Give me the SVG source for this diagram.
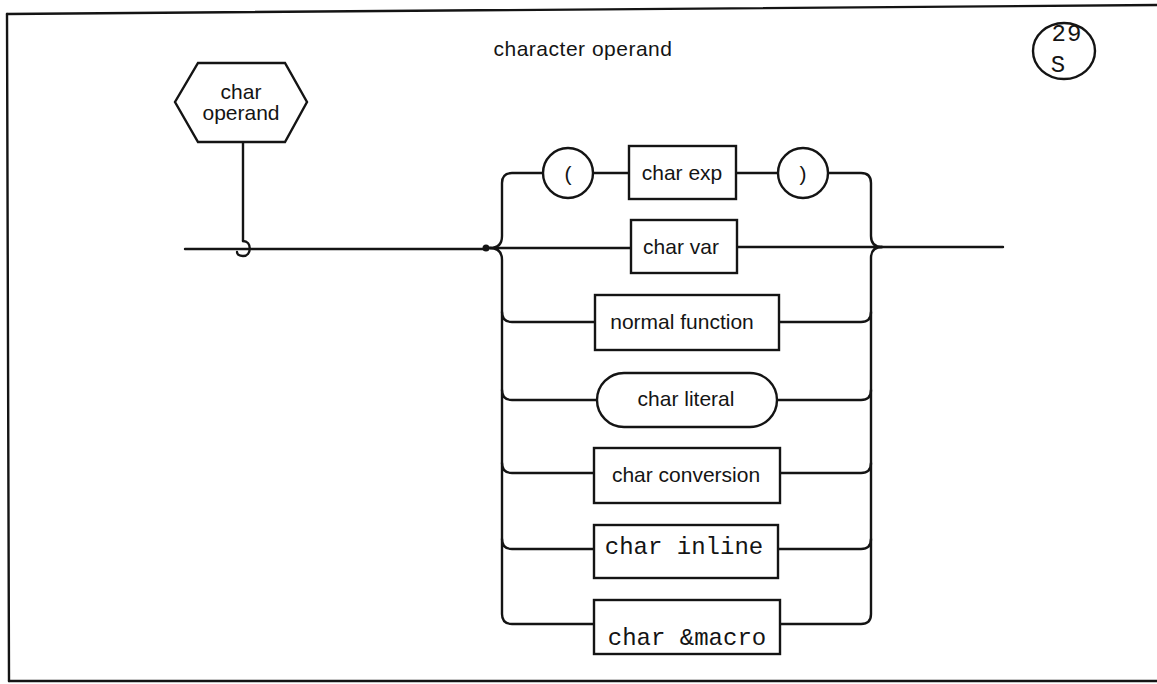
<svg xmlns="http://www.w3.org/2000/svg" width="1157" height="684" viewBox="0 0 1157 684">
  <style>
    .ln { fill: none; stroke: #141414; stroke-width: 2.4; stroke-linecap: round; stroke-linejoin: round; }
    .box { fill: #fff; stroke: #141414; stroke-width: 2.4; }
    .sans { font-family: "Liberation Sans", Arial, sans-serif; font-size: 21px; fill: #141414; text-anchor: middle; }
    .mono { font-family: "Liberation Mono", "Courier New", monospace; font-size: 24px; fill: #141414; text-anchor: middle; }
  </style>
  <rect width="1157" height="684" fill="#fff"/>

  <!-- page frame -->
  <g id="frame">
    <path class="ln" d="M7,14 L1157,5" stroke-width="3"/>
    <path class="ln" d="M7,14 L9,681" stroke-width="3"/>
    <path class="ln" d="M9,681 L1157,681" stroke-width="3"/>
  </g>

  <text class="sans" x="583" y="56" font-size="20" letter-spacing="0.5">character operand</text>

  <!-- page tag -->
  <g id="page-tag">
    <ellipse cx="1064" cy="51" rx="31" ry="28" class="box"/>
    <text class="mono" x="1067" y="41" font-size="28" letter-spacing="1">29</text>
    <text class="mono" x="1058" y="72" font-size="26">S</text>
  </g>

  <!-- connectors -->
  <g id="connectors">
    <!-- stem from definition to main line -->
    <path class="ln" d="M243,142 V241"/>
    <path class="ln" d="M185,249 H486"/>
    <path class="ln" d="M243,241 C252,241 252,256 243,256 C239,256 237,254 237,252"/>
    <circle cx="486" cy="248" r="3.5" fill="#141414"/>
    <!-- left brace -->
    <path class="ln" d="M486,248 H631"/>
    <path class="ln" d="M490,248 Q502,248 502,236 V183 Q502,173 512,173 H543"/>
    <path class="ln" d="M490,248 Q502,248 502,260 V614 Q502,624 512,624 H594"/>
    <path class="ln" d="M502,312 Q502,322 512,322 H595"/>
    <path class="ln" d="M502,390 Q502,400 512,400 H597"/>
    <path class="ln" d="M502,463 Q502,473 512,473 H594"/>
    <path class="ln" d="M502,539 Q502,549 512,549 H594"/>
    <!-- first branch internals -->
    <path class="ln" d="M593,173 H629"/>
    <path class="ln" d="M736,173 H778"/>
    <!-- right brace -->
    <path class="ln" d="M828,173 H861 Q871,173 871,183 V236 Q871,247 882,247 H1003"/>
    <path class="ln" d="M737,247 H882"/>
    <path class="ln" d="M882,247 Q871,247 871,258 V614 Q871,624 861,624 H780"/>
    <path class="ln" d="M779,322 H861 Q871,322 871,312"/>
    <path class="ln" d="M777,400 H861 Q871,400 871,390"/>
    <path class="ln" d="M780,473 H861 Q871,473 871,463"/>
    <path class="ln" d="M778,549 H861 Q871,549 871,539"/>
  </g>

  <g id="char-operand">
    <polygon class="box" points="198,63 285,63 307,102 285,142 198,142 175,102"/>
    <text class="sans" x="241" y="99">char</text>
    <text class="sans" x="241" y="120">operand</text>
  </g>

  <g id="lparen">
    <circle class="box" cx="568" cy="173" r="25"/>
    <text class="sans" x="568" y="181">(</text>
  </g>
  <g id="char-exp">
    <rect class="box" x="629" y="146" width="107" height="53"/>
    <text class="sans" x="682" y="180">char exp</text>
  </g>
  <g id="rparen">
    <circle class="box" cx="803" cy="173" r="25"/>
    <text class="sans" x="803" y="181">)</text>
  </g>
  <g id="char-var">
    <rect class="box" x="631" y="220" width="106" height="53"/>
    <text class="sans" x="681" y="254">char var</text>
  </g>
  <g id="normal-function">
    <rect class="box" x="595" y="295" width="184" height="55"/>
    <text class="sans" x="682" y="329">normal function</text>
  </g>
  <g id="char-literal">
    <rect class="box" x="597" y="373" width="180" height="54" rx="27" ry="27"/>
    <text class="sans" x="686" y="406">char literal</text>
  </g>
  <g id="char-conversion">
    <rect class="box" x="594" y="448" width="186" height="55"/>
    <text class="sans" x="686" y="482">char conversion</text>
  </g>
  <g id="char-inline">
    <rect class="box" x="594" y="525" width="184" height="53"/>
    <text class="mono" x="684" y="554">char inline</text>
  </g>
  <g id="char-macro">
    <rect class="box" x="594" y="600" width="186" height="54"/>
    <text class="mono" x="687" y="645">char &amp;macro</text>
  </g>
</svg>
